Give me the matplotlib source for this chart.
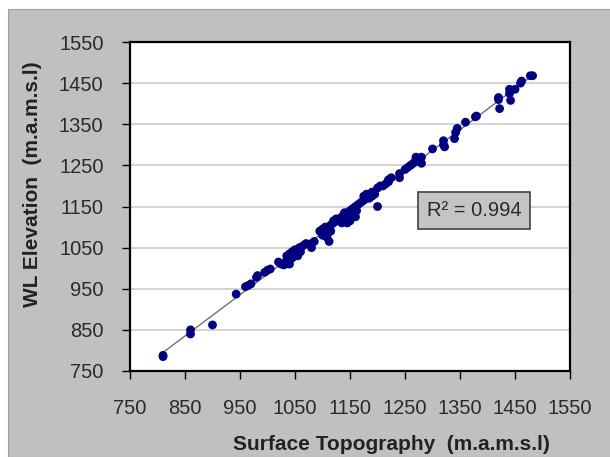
import matplotlib.pyplot as plt
import numpy as np
from matplotlib.patches import Rectangle

plt.rcParams["font.family"] = ["Liberation Sans", "DejaVu Sans"]

# surface topography vs water level elevation (m.a.m.s.l)
topo = [810, 810, 860, 860, 900, 943, 960, 965, 970, 980, 982, 995, 1000, 1005,
        1020, 1025, 1030, 1035, 1035, 1040, 1040, 1045, 1045, 1050, 1055, 1058, 1060,
        1065, 1070, 1080, 1080, 1085,
        1095, 1100, 1100, 1105, 1108, 1110, 1112, 1115, 1115, 1120, 1120, 1125, 1130,
        1135, 1135, 1140, 1140, 1145, 1145, 1150, 1150, 1155, 1155, 1160, 1160, 1162,
        1165, 1170, 1175, 1175, 1180, 1180, 1185, 1190, 1190, 1195, 1200, 1200, 1205,
        1210, 1215, 1220, 1220, 1225,
        1240, 1240, 1250, 1255, 1260, 1265, 1270, 1270, 1275, 1280, 1280,
        1300, 1320, 1320, 1322, 1340, 1342, 1345, 1360, 1380, 1378,
        1420, 1420, 1422, 1440, 1440, 1442, 1450, 1460, 1462, 1478, 1482]
wl = [788, 785, 850, 840, 862, 937, 955, 958, 962, 978, 982, 990, 995, 998,
      1015, 1010, 1008, 1020, 1030, 1035, 1010, 1025, 1040, 1045, 1030, 1050, 1040,
      1055, 1060, 1050, 1060, 1065,
      1090, 1095, 1080, 1100, 1075, 1085, 1065, 1105, 1090, 1110, 1115, 1120, 1115,
      1125, 1110, 1130, 1135, 1120, 1110, 1140, 1115, 1145, 1130, 1150, 1125, 1140,
      1155, 1160, 1165, 1175, 1170, 1180, 1170, 1175, 1185, 1180, 1195, 1150, 1200,
      1200, 1205, 1210, 1215, 1220,
      1230, 1220, 1240, 1245, 1250, 1255, 1265, 1270, 1260, 1270, 1255,
      1290, 1310, 1300, 1295, 1315, 1330, 1340, 1355, 1370, 1368,
      1415, 1410, 1388, 1435, 1425, 1408, 1435, 1450, 1455, 1468, 1468]
r2_label = "R² = 0.994"
ticks = [750, 850, 950, 1050, 1150, 1250, 1350, 1450, 1550]

x = np.array(topo)
y = np.array(wl)
slope, icpt = np.polyfit(x, y, 1)
xl = np.array([x.min(), x.max()])

fig = plt.figure(figsize=(6.1, 4.57), dpi=100, facecolor="white")
fig.patches.append(Rectangle((8 / 610, 0), 1, 1 - 9 / 457, transform=fig.transFigure,
                             facecolor="#c0c0c0", edgecolor="#a0a0a0", lw=0.8, zorder=-1))

ax = fig.add_axes([130 / 610, 1 - 371 / 457, 440 / 610, 329 / 457])
ax.set_zorder(2)
ax.set_facecolor("white")
ax.plot(xl, slope * xl + icpt, color="#707070", lw=1.0, zorder=2)
ax.scatter(x, y, s=40, color="#000080", edgecolors="none", zorder=3)

ax.set_xlim(750, 1550)
ax.set_ylim(750, 1550)
ax.set_xticks(ticks)
ax.set_yticks(ticks)
ax.tick_params(direction="out", length=6, width=1, labelsize=14.5, labelcolor="#2a2a2a")
ax.tick_params(axis="y", pad=13)
ax.tick_params(axis="x", pad=14)
ax.grid(axis="y", color="#d4d4d4", lw=1.5)
ax.set_axisbelow(True)
for s in ax.spines.values():
    s.set_linewidth(1.6)
    s.set_color("black")

fig.text(33 / 610, 1 - 184 / 457, "WL Elevation  (m.a.m.s.l)", fontsize=15, fontweight="bold",
         color="#222222", rotation=90, ha="center", va="center")
fig.text(391 / 610, 1 - 445 / 457, "Surface Topography  (m.a.m.s.l)", fontsize=15,
         fontweight="bold", color="#222222", ha="center", va="center")

ax.text(0.782, 0.489, r2_label, transform=ax.transAxes, fontsize=14.5, color="#2a2a2a",
        ha="center", va="center",
        bbox=dict(boxstyle="square,pad=0.45", facecolor="#c4c4c4", edgecolor="#404040", lw=1.2))

fig.savefig("out.png", dpi=100)
